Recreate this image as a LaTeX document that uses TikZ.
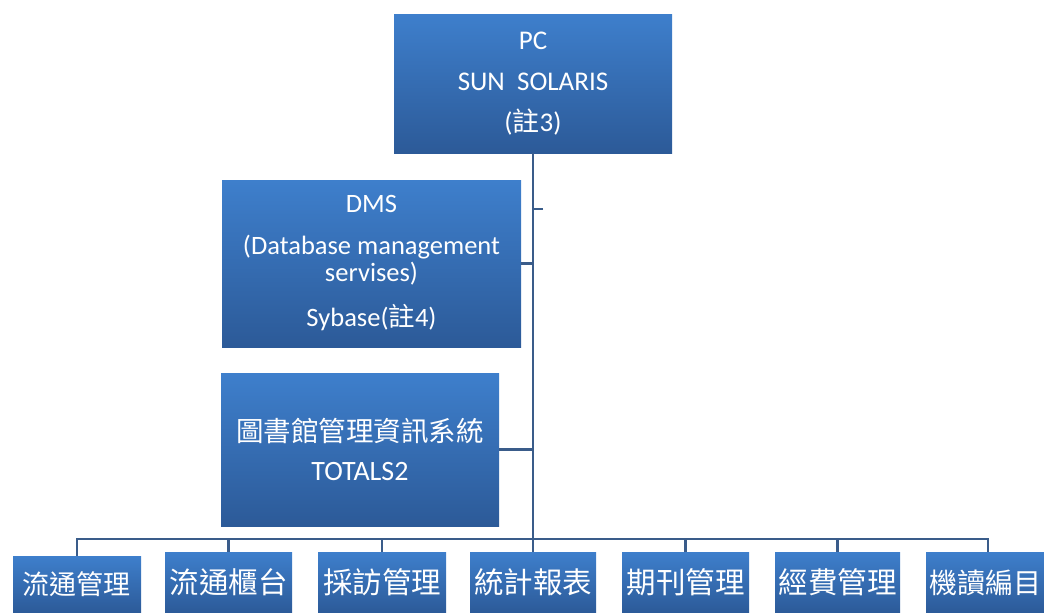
\documentclass[tikz,border=0pt]{standalone}
\usepackage{fontspec}
\setmainfont{Carlito}
\newfontfamily\cjk{Noto Sans CJK TC}
\definecolor{boxtop}{RGB}{62,127,204}
\definecolor{boxbot}{RGB}{44,90,152}
\definecolor{linec}{RGB}{58,92,138}
\tikzset{
  box/.style={rectangle, inner sep=0pt, top color=boxtop, bottom color=boxbot,
    text=white, align=center},
  leaf/.style={box, minimum height=61pt, font=\cjk\fontsize{29.5}{30}\selectfont},
  conn/.style={draw=linec, line width=2.6pt}
}
\begin{document}
\begin{tikzpicture}[x=1pt,y=-1pt]
\useasboundingbox (0,0) rectangle (1044,613);
\clip (0,0) rectangle (1044,613);
% top boxes
\node[box, minimum width=278pt, minimum height=139pt,
  font=\fontsize{27}{41}\selectfont] (pc) at (533,83.5)
  {PC\\SUN\ \ SOLARIS\\({\cjk 註}3)};
\node[box, minimum width=299pt, minimum height=167pt,
  font=\fontsize{26.5}{27}\selectfont] (dms) at (371.5,263.5)
  {DMS\\[15pt](Database management\\servises)\\[18pt]Sybase({\cjk 註}4)};
\node[box, minimum width=278pt, minimum height=153pt,
  font=\fontsize{28}{39}\selectfont] (tot) at (360,449.5)
  {{\cjk\fontsize{27.5}{39}\selectfont 圖書館管理資訊系統}\\TOTALS2};
% leaf boxes
\node[leaf, minimum width=128pt, minimum height=57pt, font=\cjk\fontsize{27}{30}\selectfont] (b1) at (77,584.5) {流通管理};
\node[leaf, minimum width=127pt] (b2) at (228.5,582.5) {流通櫃台};
\node[leaf, minimum width=128pt] (b3) at (382,582.5) {採訪管理};
\node[leaf, minimum width=126pt] (b4) at (533,582.5) {統計報表};
\node[leaf, minimum width=127pt] (b5) at (685.5,582.5) {期刊管理};
\node[leaf, minimum width=125pt] (b6) at (837.5,582.5) {經費管理};
\node[leaf, minimum width=118pt, font=\cjk\fontsize{28}{30}\selectfont] (b7) at (985,582.5) {機讀編目};
% connectors
\coordinate (j) at (533,539);
\coordinate (tick) at (543,209);
\draw[conn] (pc.south) -- (j);
\draw[conn] (tick) -- (tick -| pc.south);
\draw[conn] (dms.east) -- (dms.east -| pc.south);
\draw[conn] (tot.east) -- (tot.east -| pc.south);
\draw[conn] (b1.north) |- (j);
\draw[conn] (b2.north) |- (j);
\draw[conn] (b3.north) |- (j);
\draw[conn] (b4.north) -- (j);
\draw[conn] (b5.north) |- (j);
\draw[conn] (b6.north) |- (j);
\draw[conn] ([xshift=3pt]b7.north) |- (j);
\end{tikzpicture}
\end{document}
